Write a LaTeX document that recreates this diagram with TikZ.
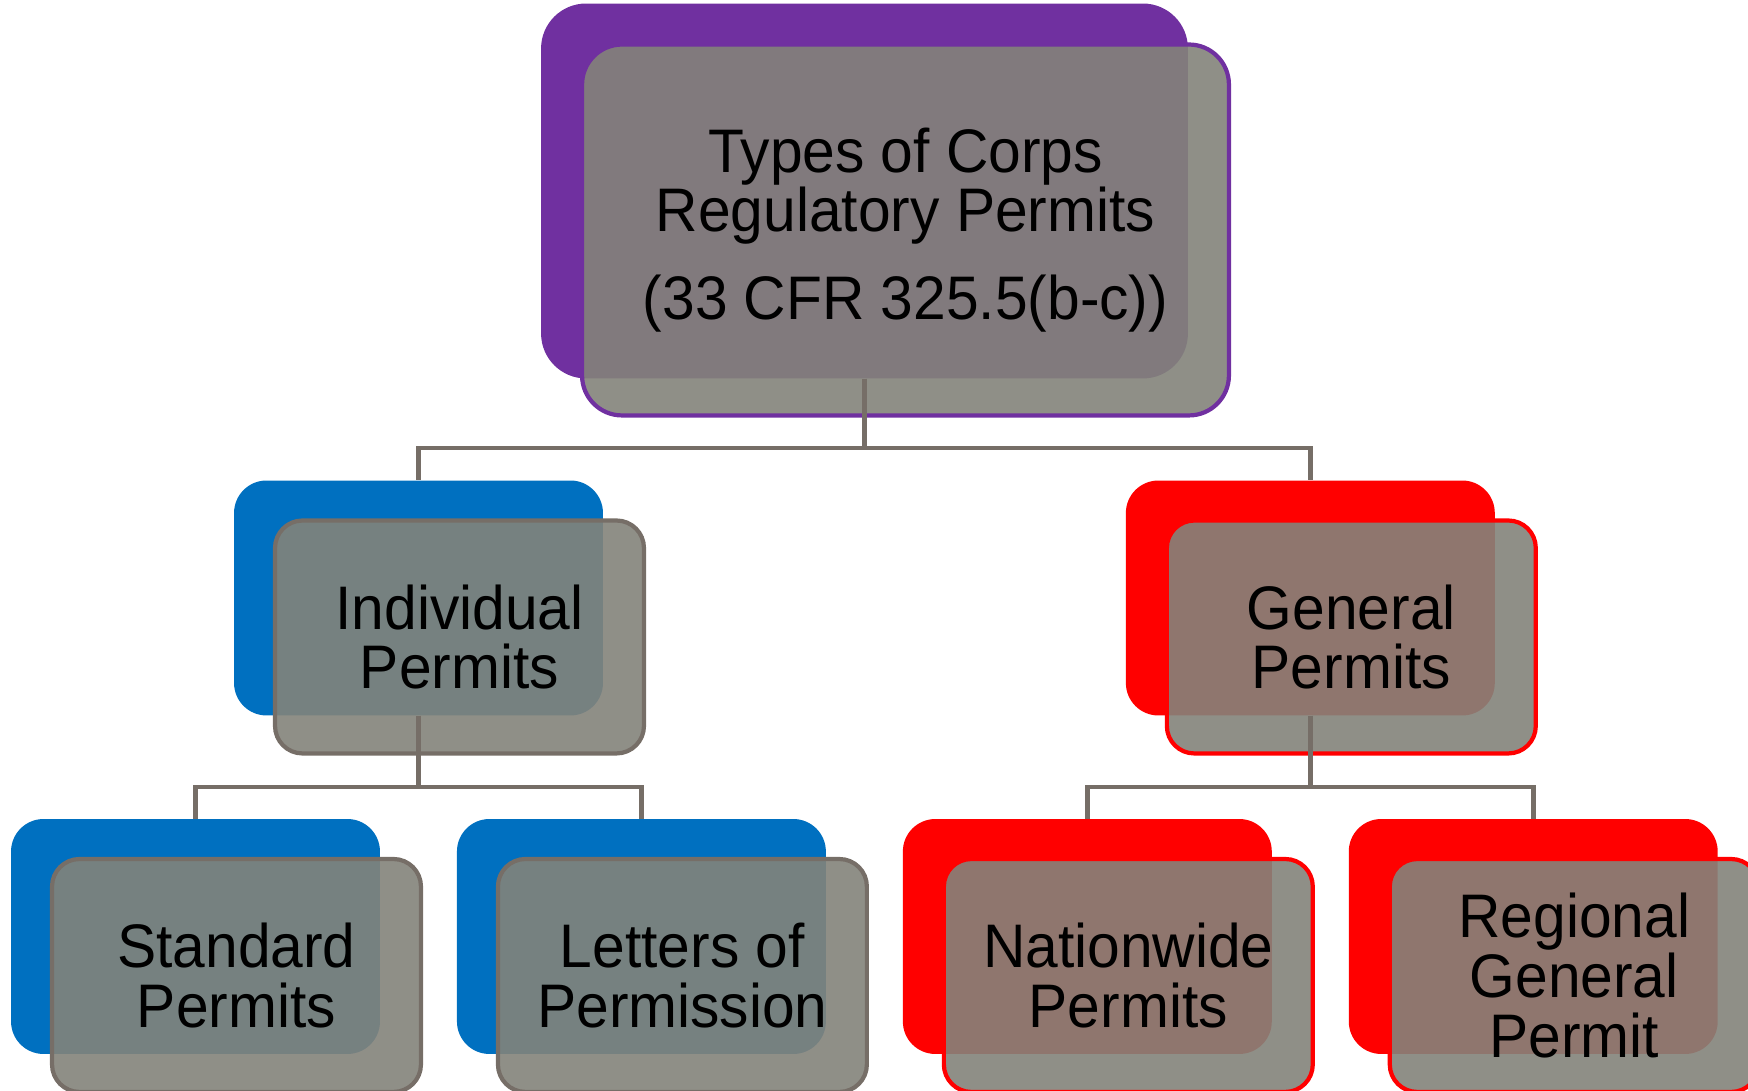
\documentclass[tikz,border=0pt]{standalone}
\usepackage{fontspec}
\setmainfont{Liberation Sans}[FakeStretch=0.955]
\usepackage{xcolor}
\usetikzlibrary{shapes,positioning}
\definecolor{permpurple}{RGB}{112,48,160}
\definecolor{permblue}{RGB}{0,112,192}
\definecolor{permred}{RGB}{255,0,0}
\definecolor{permgray}{RGB}{131,131,122}
\definecolor{linkgray}{RGB}{118,110,103}

\begin{document}
\begin{tikzpicture}[x=0.02cm, y=0.02cm, node distance=8.92cm]
    % Define styles
    \tikzstyle{back} = [rectangle, rounded corners=0.65cm, minimum width=7.38cm, minimum height=4.7cm, inner sep=0pt]
    \tikzstyle{front} = [rectangle, rounded corners=0.55cm, draw=linkgray, line width=2.4pt, fill=permgray, fill opacity=0.9, text opacity=1, text=black, minimum width=7.38cm, minimum height=4.66cm, align=center, font=\fontsize{35}{34}\selectfont, inner sep=0pt, xshift=0.82cm, yshift=-0.78cm]
    \tikzstyle{link} = [draw=linkgray, line width=2.6pt]

    \useasboundingbox (0,0) rectangle (1748,1091);

    % Top
    \node [back, fill=permpurple, minimum width=12.94cm, minimum height=7.5cm, rounded corners=0.9cm] (types) at (864.5,900) {};
    \node [front, draw=permpurple, minimum width=12.94cm, minimum height=7.42cm, rounded corners=0.8cm] (typesF) at (types) {Types of Corps\\Regulatory Permits\\[0.56cm](33 CFR 325.5(b-c))};

    % Individual permits
    \node [back, fill=permblue] (indiv) at (418.5,493) {};
    \node [front] (indivF) at (indiv) {Individual\\Permits};
    \node [back, fill=permblue] (standard) at (195.5,154.5) {};
    \node [front] (standardF) at (standard) {Standard\\Permits};
    \node [back, fill=permblue, right of=standard] (letters) {};
    \node [front] (lettersF) at (letters) {Letters of\\Permission};

    % General permits
    \node [back, fill=permred, right of=indiv, xshift=8.92cm] (general) {};
    \node [front, draw=permred] (generalF) at (general) {General\\Permits};
    \node [back, fill=permred, right of=letters] (nationwide) {};
    \node [front, draw=permred] (nationwideF) at (nationwide) {Nationwide\\Permits};
    \node [back, fill=permred, right of=nationwide] (regional) {};
    \node [front, draw=permred] (regionalF) at (regional) {Regional\\General\\Permit};

    % Links
    \draw [link] (types.south) -- ++(0,-69) -| (indiv.north);
    \draw [link] (types.south) -- ++(0,-69) -| (general.north);
    \draw [link] (indiv.south) -- ++(0,-71) -| (standard.north);
    \draw [link] (indiv.south) -- ++(0,-71) -| (letters.north);
    \draw [link] (general.south) -- ++(0,-71) -| (nationwide.north);
    \draw [link] (general.south) -- ++(0,-71) -| (regional.north);
\end{tikzpicture}
\end{document}
